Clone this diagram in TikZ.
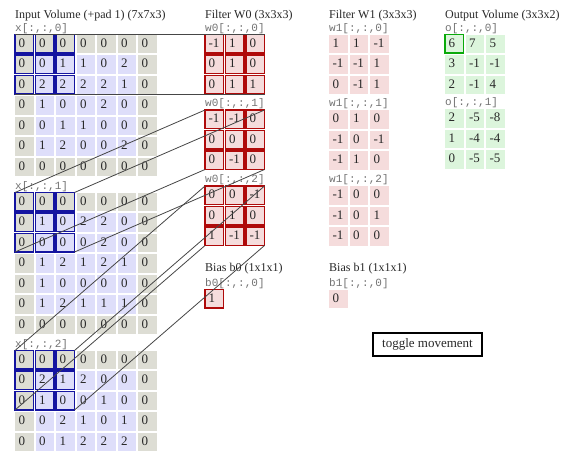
\documentclass[tikz,border=0pt]{standalone}
\usepackage{fontspec}
\setmainfont{Liberation Serif}
\newfontfamily\monof{Liberation Mono}
\definecolor{padc}{RGB}{221,221,212}
\definecolor{inc}{RGB}{222,222,250}
\definecolor{filc}{RGB}{245,220,220}
\definecolor{outc}{RGB}{220,245,220}
\definecolor{hlblue}{RGB}{20,20,160}
\definecolor{hlred}{RGB}{175,10,10}
\definecolor{hlgreen}{RGB}{10,170,10}
\definecolor{txt}{RGB}{40,40,40}
\definecolor{lbl}{RGB}{115,115,115}
\definecolor{conn}{RGB}{70,70,70}
\tikzset{
  cellbase/.style={anchor=north west, minimum width=18.5pt, minimum height=18.5pt,
    inner xsep=3.5pt, inner ysep=0pt, outer sep=0pt, text width=11.5pt, align=left,
    text height=9pt, text depth=2.5pt, font=\fontsize{13}{15}\selectfont, text=txt},
  inputcell/.code={%
    \pgfmathtruncatemacro\pad{(\i==0)||(\j==0)||(\i==6)||(\j==6)}%
    \pgfmathtruncatemacro\hl{(\i<3)&&(\j<3)}%
    \ifnum\pad=1 \tikzset{fill=padc}\else\tikzset{fill=inc}\fi
    \ifnum\hl=1 \tikzset{draw=hlblue, line width=1.5pt}\fi},
  w0cell/.style={fill=filc, draw=hlred, line width=1.5pt},
  w1cell/.style={fill=filc},
  outcell/.code={%
    \tikzset{fill=outc}%
    \pgfmathtruncatemacro\hl{(\i==0)&&(\j==0)}%
    \ifnum\hl=1 \tikzset{draw=hlgreen, line width=1.5pt}\fi},
  title/.style={anchor=base west, inner sep=0pt, font=\fontsize{12}{14}\selectfont, text=txt},
  mlabel/.style={anchor=base west, inner sep=0pt, font=\monof\fontsize{11}{13}\selectfont, text=lbl},
  connline/.style={draw=conn, line width=0.8pt},
}
\newcommand\drawgrid[5]{%
  \foreach \r [count=\i from 0] in {#5} {
    \foreach \v [count=\j from 0] in \r {
      \node[cellbase, #4] (#1-\i-\j) at ({#2+20.5*\j},{#3+20.5*\i}) {\v};
    }
  }
}
\begin{document}
\begin{tikzpicture}[x=1pt,y=-1pt]
\clip (0,0) rectangle (569,450);
\fill[white] (0,0) rectangle (569,450);
% titles
\node[title] (tin) at (15,18) {Input Volume (+pad 1) (7x7x3)};
\node[title] (tw0) at (205,18) {Filter W0 (3x3x3)};
\node[title] (tw1) at (329,18) {Filter W1 (3x3x3)};
\node[title] (tout) at (445,18) {Output Volume (3x3x2)};
% input volume
\node[mlabel] (lx0) at (15,31) {x[:,:,0]};
\drawgrid{x0}{15}{34.5}{inputcell}{{0,0,0,0,0,0,0},{0,0,1,1,0,2,0},{0,2,2,2,2,1,0},{0,1,0,0,2,0,0},{0,0,1,1,0,0,0},{0,1,2,0,0,2,0},{0,0,0,0,0,0,0}}
\node[mlabel] (lx1) at (15,189) {x[:,:,1]};
\drawgrid{x1}{15}{192.5}{inputcell}{{0,0,0,0,0,0,0},{0,1,0,2,2,0,0},{0,0,0,0,2,0,0},{0,1,2,1,2,1,0},{0,1,0,0,0,0,0},{0,1,2,1,1,1,0},{0,0,0,0,0,0,0}}
\node[mlabel] (lx2) at (15,347) {x[:,:,2]};
\drawgrid{x2}{15}{350.5}{inputcell}{{0,0,0,0,0,0,0},{0,2,1,2,0,0,0},{0,1,0,0,1,0,0},{0,0,2,1,0,1,0},{0,0,1,2,2,2,0}}
% filter W0
\node[mlabel] (lw00) at (205,31) {w0[:,:,0]};
\drawgrid{w0c0}{205}{34.5}{w0cell}{{-1,1,0},{0,1,0},{0,1,1}}
\node[mlabel] (lw01) at (205,106.5) {w0[:,:,1]};
\drawgrid{w0c1}{205}{110}{w0cell}{{-1,-1,0},{0,0,0},{0,-1,0}}
\node[mlabel] (lw02) at (205,182.5) {w0[:,:,2]};
\drawgrid{w0c2}{205}{186}{w0cell}{{0,0,-1},{0,1,0},{1,-1,-1}}
% bias b0
\node[title] (tb0) at (205,271.5) {Bias b0 (1x1x1)};
\node[mlabel] (lb0) at (205,286) {b0[:,:,0]};
\node[cellbase, w0cell] (b0) at (205,289.5) {1};
% filter W1
\node[mlabel] (lw10) at (329,31) {w1[:,:,0]};
\drawgrid{w1c0}{329}{34.5}{w1cell}{{1,1,-1},{-1,-1,1},{0,-1,1}}
\node[mlabel] (lw11) at (329,106.5) {w1[:,:,1]};
\drawgrid{w1c1}{329}{110}{w1cell}{{0,1,0},{-1,0,-1},{-1,1,0}}
\node[mlabel] (lw12) at (329,182.5) {w1[:,:,2]};
\drawgrid{w1c2}{329}{186}{w1cell}{{-1,0,0},{-1,0,1},{-1,0,0}}
% bias b1
\node[title] (tb1) at (329,271.5) {Bias b1 (1x1x1)};
\node[mlabel] (lb1) at (329,286) {b1[:,:,0]};
\node[cellbase, w1cell] (b1) at (329,289.5) {0};
% output
\node[mlabel] (lo0) at (445,31) {o[:,:,0]};
\drawgrid{o0}{445}{34.5}{outcell}{{6,7,5},{3,-1,-1},{2,-1,4}}
\node[mlabel] (lo1) at (445,105.5) {o[:,:,1]};
\drawgrid{o1}{445}{109}{fill=outc}{{2,-5,-8},{1,-4,-4},{0,-5,-5}}
% button
\node[draw=black, line width=1.5pt, minimum width=109pt, minimum height=23pt, inner sep=0pt,
  font=\fontsize{13}{15}\selectfont, text=txt] (btn) at (427.5,344.5) {toggle movement};
% connectors
\foreach \c in {0,1,2} {
  \draw[connline] (x\c-0-0.north west) -- (w0c\c-0-0.north west);
  \draw[connline] (x\c-0-2.north east) -- (w0c\c-0-2.north east);
  \draw[connline] (x\c-2-0.south west) -- (w0c\c-2-0.south west);
  \draw[connline] (x\c-2-2.south east) -- (w0c\c-2-2.south east);
}
\end{tikzpicture}
\end{document}
